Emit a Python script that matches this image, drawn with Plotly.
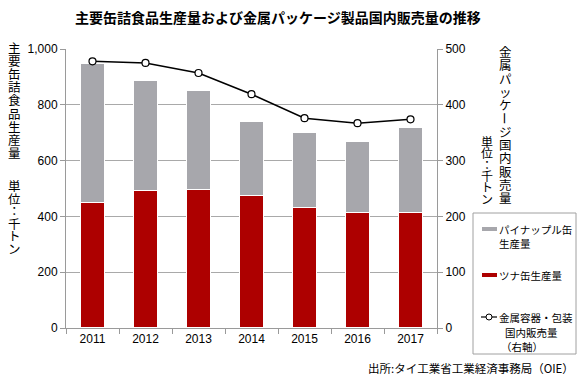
import plotly.graph_objects as go

years = ["2011", "2012", "2013", "2014", "2015", "2016", "2017"]
tuna = [450, 493, 497, 475, 431, 413, 413]
pineapple = [499, 393, 356, 267, 269, 257, 305]
metal_pkg = [478, 475, 457, 419, 376, 367, 374]

left_ticks = [0, 200, 400, 600, 800, 1000]
right_ticks = [0, 100, 200, 300, 400, 500]

W, H = 580, 378
L, R, T, B = 66, 437, 49, 328

def px(x):
    return (x - L) / (R - L)

def py(y):
    return (B - y) / (B - T)

JP = "Noto Sans CJK JP"
NUM = "Liberation Sans"
GRAY = "#a7a7ac"
RED = "#ad0000"
AX = "#9a9a9a"

fig = go.Figure()
fig.add_trace(go.Bar(x=years, y=tuna, marker=dict(color=RED, line=dict(color="white", width=1.2)),
                     width=0.44, name="ツナ缶生産量", showlegend=False))
fig.add_trace(go.Bar(x=years, y=pineapple, marker=dict(color=GRAY, line=dict(color="white", width=1.2)),
                     width=0.44, name="パイナップル缶生産量", showlegend=False))
fig.add_trace(go.Scatter(x=years, y=metal_pkg, yaxis="y2", mode="lines+markers",
                         line=dict(color="black", width=1.6),
                         marker=dict(symbol="circle", size=7, color="white", line=dict(color="black", width=1.2)),
                         name="金属容器・包装国内販売量（右軸）", showlegend=False))

fig.update_layout(
    width=W, height=H,
    margin=dict(l=L, r=W - R, t=T, b=H - B),
    barmode="stack",
    plot_bgcolor="white", paper_bgcolor="white",
    font=dict(family=NUM, size=12, color="black"),
    xaxis=dict(type="category", showline=True, linecolor=AX, ticks="outside", tickson="boundaries",
               ticklen=5, tickcolor=AX, tickfont=dict(family=NUM, size=12), showgrid=False),
    yaxis=dict(range=[0, 1000], tickvals=left_ticks, tickformat=",", showline=True, linecolor=AX,
               ticks="outside", ticklen=5, tickcolor=AX, gridcolor="#a9a9a9", gridwidth=1,
               tickfont=dict(family=NUM, size=12), zeroline=False),
    yaxis2=dict(range=[0, 500], tickvals=right_ticks, overlaying="y", side="right", showline=True,
                linecolor=AX, ticks="outside", ticklen=5, tickcolor=AX, showgrid=False,
                tickfont=dict(family=NUM, size=12), zeroline=False),
)

ann = []
shapes = []

# title
ann.append(dict(text="<b>主要缶詰食品生産量および金属パッケージ製品国内販売量の推移</b>",
                x=px(278), y=py(17), xref="paper", yref="paper", showarrow=False,
                font=dict(family=JP, size=14), xanchor="center", yanchor="middle"))

def vcolumn(chars, x, y_first, step, glyph=12.5):
    """Upright vertical text in one annotation; line step = 1.3 * base size."""
    base = step / 1.3
    lines = []
    for c in chars:
        if c == "ー":
            lines.append("\u00a0")
        else:
            lines.append('<span style="font-size:%.1fpx">%s</span>' % (glyph, c))
    n = len(chars)
    yc = y_first + (n - 1) * step / 2
    ann.append(dict(text="<br>".join(lines), x=px(x), y=py(yc), xref="paper", yref="paper",
                    showarrow=False, font=dict(family=JP, size=base), xanchor="center",
                    yanchor="middle", align="center"))
    for i, c in enumerate(chars):
        if c == "ー":
            ann.append(dict(text=c, x=px(x), y=py(y_first + i * step), xref="paper", yref="paper",
                            showarrow=False, font=dict(family=JP, size=glyph), textangle=90,
                            xanchor="center", yanchor="middle"))

vcolumn("主要缶詰食品生産量", 14, 48, 13.1)
vcolumn("単位：千トン", 14, 185, 12.6)
vcolumn("金属パッケージ国内販売量", 505, 51.5, 13.3)
vcolumn("単位：千トン", 487, 142, 11.3, glyph=12)

# legend box
shapes.append(dict(type="rect", xref="paper", yref="paper", x0=px(473), x1=px(576), y0=py(213), y1=py(354),
                   line=dict(color="#a0a0a0", width=1), fillcolor="white"))
shapes.append(dict(type="line", xref="paper", yref="paper", x0=px(482), x1=px(497), y0=py(229), y1=py(229),
                   line=dict(color=GRAY, width=4)))
shapes.append(dict(type="line", xref="paper", yref="paper", x0=px(482), x1=px(497), y0=py(275), y1=py(275),
                   line=dict(color=RED, width=4)))
shapes.append(dict(type="line", xref="paper", yref="paper", x0=px(481), x1=px(497), y0=py(317), y1=py(317),
                   line=dict(color="black", width=1.2)))
shapes.append(dict(type="circle", xref="paper", yref="paper", x0=px(486), x1=px(492), y0=py(314), y1=py(320),
                   line=dict(color="black", width=1), fillcolor="white"))

def ltext(t, x, y, anchor="left"):
    ann.append(dict(text=t, x=px(x), y=py(y), xref="paper", yref="paper", showarrow=False,
                    font=dict(family=JP, size=10.5), xanchor=anchor, yanchor="middle"))

ltext("パイナップル缶", 497, 229)
ltext("生産量", 497, 243)
ltext("ツナ缶生産量", 497, 275)
ltext("金属容器・包装", 497, 317)
ltext("国内販売量", 503, 332)
ltext("（右軸）", 499, 346)

# source
ann.append(dict(text="出所:タイ工業省工業経済事務局（OIE）", x=px(576), y=py(368), xref="paper", yref="paper",
                showarrow=False, font=dict(family=JP, size=11.5), xanchor="right", yanchor="middle"))

fig.update_layout(annotations=ann, shapes=shapes)
fig.write_html("out.html", config={"displayModeBar": False},
               post_script="document.body.style.margin='0';")
